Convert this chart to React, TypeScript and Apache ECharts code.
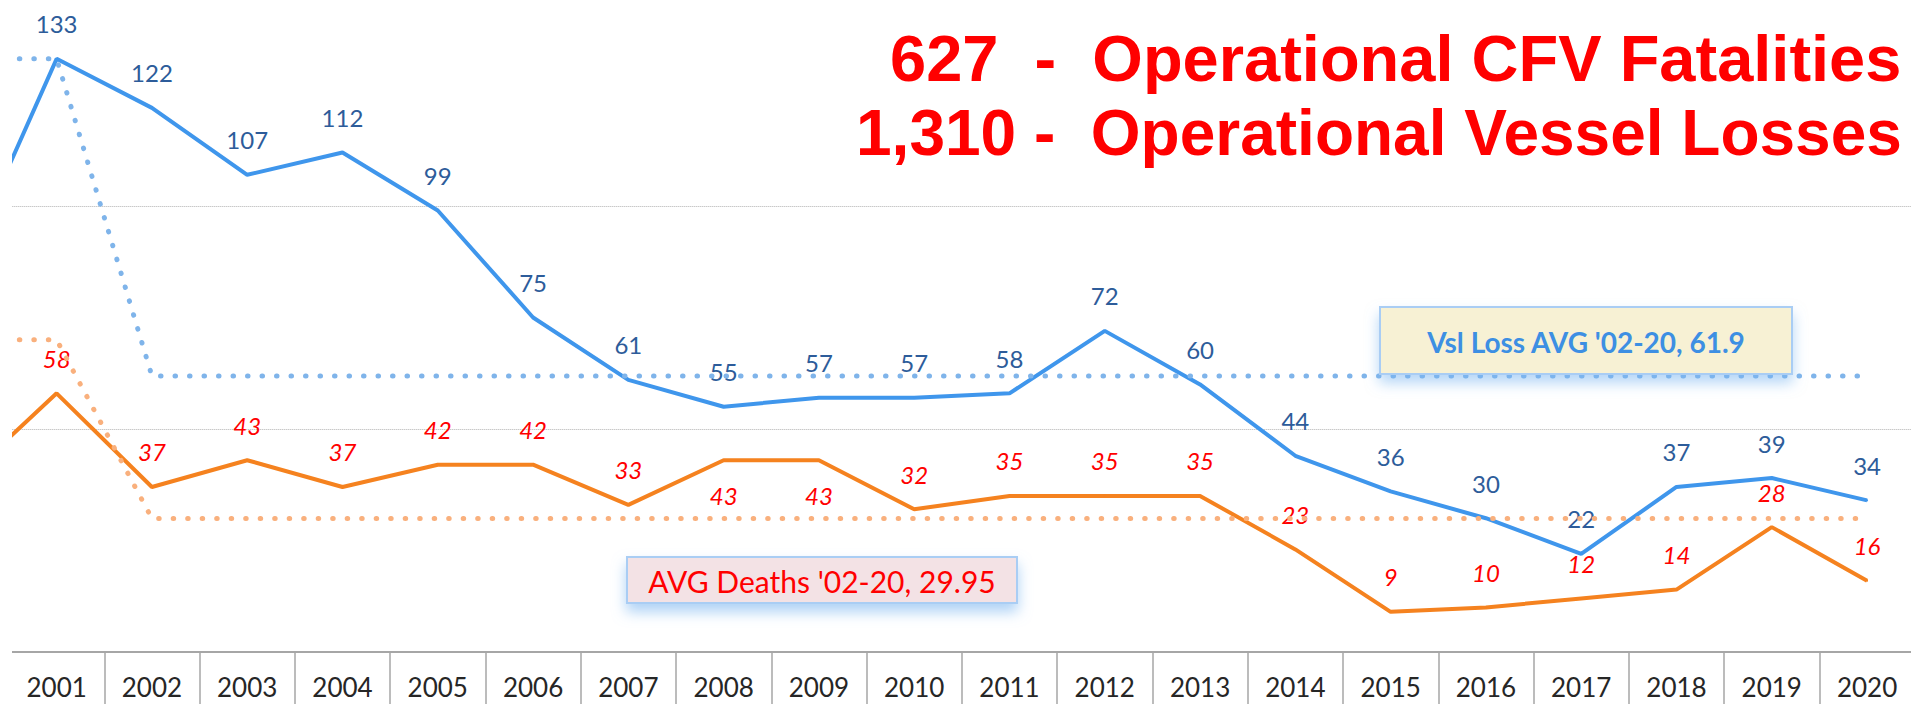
import React, { useEffect, useRef } from "react";
import * as echarts from "echarts";

// ---- data ----
const years = ["2000", "2001", "2002", "2003", "2004", "2005", "2006", "2007", "2008", "2009", "2010", "2011", "2012", "2013", "2014", "2015", "2016", "2017", "2018", "2019", "2020"];
const vesselLosses = [85, 133, 122, 107, 112, 99, 75, 61, 55, 57, 57, 58, 72, 60, 44, 36, 30, 22, 37, 39, 34];
const fatalities = [38, 58, 37, 43, 37, 42, 42, 33, 43, 43, 32, 35, 35, 35, 23, 9, 10, 12, 14, 28, 16];
const vesselAvg = [133, 133, 61.9, 61.9, 61.9, 61.9, 61.9, 61.9, 61.9, 61.9, 61.9, 61.9, 61.9, 61.9, 61.9, 61.9, 61.9, 61.9, 61.9, 61.9, 61.9];
const deathAvg = [70, 70, 29.95, 29.95, 29.95, 29.95, 29.95, 29.95, 29.95, 29.95, 29.95, 29.95, 29.95, 29.95, 29.95, 29.95, 29.95, 29.95, 29.95, 29.95, 29.95];
const hiddenYears = ["2000"];
const fatalityLabelsBelow = ["2008", "2009"];
const titleLines = ["627  -  Operational CFV Fatalities", "1,310 -  Operational Vessel Losses"];
const vesselAvgNote = "Vsl Loss AVG '02-20, 61.9";
const deathAvgNote = "AVG Deaths '02-20, 29.95";

const FONT = "Lato, 'Open Sans', sans-serif";

export default function App() {
  const ref = useRef<HTMLDivElement>(null);
  useEffect(() => {
    if (!ref.current) return;
    const chart = echarts.init(ref.current, null, { renderer: "svg" });
    const blueData = vesselLosses.map((v, i) =>
      hiddenYears.includes(years[i]) ? { value: v, label: { show: false } } : v
    );
    const orangeData = fatalities.map((v, i) => {
      if (hiddenYears.includes(years[i])) return { value: v, label: { show: false } };
      if (fatalityLabelsBelow.includes(years[i])) return { value: v, label: { position: "bottom" } };
      return v;
    });
    chart.setOption({
      animation: false,
      backgroundColor: "#ffffff",
      grid: { left: -86.3, right: -3.7, top: -17, bottom: 52, outerBoundsMode: "none", containLabel: false },
      xAxis: {
        type: "category",
        data: years,
        boundaryGap: true,
        axisLine: { lineStyle: { color: "#a6a6a6", width: 2 } },
        axisTick: {
          show: true,
          length: 60,
          interval: (idx: number) => idx > 1,
          lineStyle: { color: "#a6a6a6", width: 1.5 },
        },
        axisLabel: {
          margin: 22,
          fontFamily: FONT,
          fontSize: 26,
          color: "#262626",
          formatter: (v: string) => (hiddenYears.includes(v) ? "" : v),
        },
      },
      yAxis: {
        type: "value",
        min: 0,
        max: 150,
        interval: 50,
        axisLine: { show: false },
        axisTick: { show: false },
        axisLabel: { show: false },
        splitLine: { lineStyle: { color: "#b0b0b0", width: 1, type: "dotted" } },
      },
      series: [
        {
          name: "Vessel Losses",
          type: "line",
          data: blueData,
          symbol: "circle",
          symbolSize: 2,
          showAllSymbol: true,
          itemStyle: { color: "#3f96ec" },
          lineStyle: { color: "#3f96ec", width: 4 },
          label: {
            show: true,
            position: "top",
            distance: 22,
            color: "#2d5c9a",
            fontFamily: FONT,
            fontSize: 24,
          },
          z: 3,
        },
        {
          name: "Fatalities",
          type: "line",
          data: orangeData,
          symbol: "circle",
          symbolSize: 2,
          showAllSymbol: true,
          itemStyle: { color: "#f5821f" },
          lineStyle: { color: "#f5821f", width: 4 },
          label: {
            show: true,
            position: "top",
            distance: 22,
            color: "#ff0000",
            fontFamily: FONT,
            fontStyle: "italic",
            fontSize: 24,
          },
          z: 3,
        },
        {
          name: "Vessel Avg",
          type: "line",
          data: vesselAvg,
          symbol: "none",
          lineStyle: { color: "#7fb4ea", width: 5, type: [0.5, 14], cap: "round" },
          z: 4,
        },
        {
          name: "Death Avg",
          type: "line",
          data: deathAvg,
          symbol: "none",
          lineStyle: { color: "#f9b07d", width: 5, type: [0.5, 14], cap: "round" },
          z: 4,
        },
      ],
      graphic: [
        {
          type: "rect",
          z: 99,
          shape: { x: 0, y: 0, width: 12, height: 704 },
          style: { fill: "#ffffff" },
        },
        {
          type: "text",
          left: 890,
          top: 26,
          z: 100,
          style: {
            text: titleLines[0],
            fill: "#ff0000",
            fontFamily: "'Liberation Sans', Arial, sans-serif",
            fontWeight: "bold",
            fontSize: 65,
          },
        },
        {
          type: "text",
          left: 856,
          top: 101,
          z: 100,
          style: {
            text: titleLines[1],
            fill: "#ff0000",
            fontFamily: "'Liberation Sans', Arial, sans-serif",
            fontWeight: "bold",
            fontSize: 64,
          },
        },
        {
          type: "rect",
          z: 100,
          shape: { x: 1380, y: 307, width: 412, height: 67 },
          style: {
            fill: "#f7f1d4",
            stroke: "#a9cdf4",
            lineWidth: 2,
            shadowBlur: 14,
            shadowOffsetY: 8,
            shadowColor: "rgba(120,180,240,0.55)",
          },
        },
        {
          type: "text",
          z: 101,
          x: 1586,
          y: 342,
          style: {
            text: vesselAvgNote,
            fill: "#3d8fe3",
            fontFamily: FONT,
            fontWeight: "bold",
            fontSize: 28,
            align: "center",
            verticalAlign: "middle",
          },
        },
        {
          type: "rect",
          z: 100,
          shape: { x: 627, y: 557, width: 390, height: 46 },
          style: {
            fill: "#f3e2e5",
            stroke: "#a9cdf4",
            lineWidth: 2,
            shadowBlur: 14,
            shadowOffsetY: 8,
            shadowColor: "rgba(120,180,240,0.6)",
          },
        },
        {
          type: "text",
          z: 101,
          x: 822,
          y: 581,
          style: {
            text: deathAvgNote,
            fill: "#ff0000",
            fontFamily: FONT,
            fontSize: 30,
            align: "center",
            verticalAlign: "middle",
          },
        },
      ],
    });
    return () => chart.dispose();
  }, []);
  return (
    <div
      ref={ref}
      style={{ position: "absolute", left: 0, top: 0, width: 1911, height: 704, background: "#fff" }}
    />
  );
}
